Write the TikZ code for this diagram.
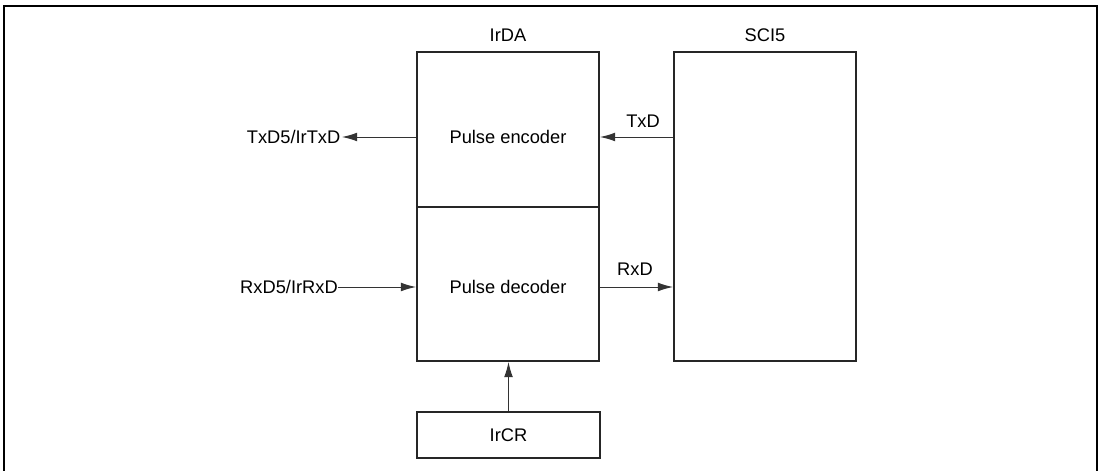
\documentclass[tikz,border=0pt]{standalone}
\usepackage{fontspec}
\setmainfont{Liberation Sans}
\usetikzlibrary{arrows.meta}

\tikzset{
  blk/.style={draw=black!85, line width=1.4pt, inner sep=0pt, font=\fontsize{13}{15}\selectfont},
  sig/.style={draw=black!80, line width=0.7pt, -{Latex[length=3.8mm,width=2.2mm]}},
  txt/.style={inner sep=1pt, font=\fontsize{13}{15}\selectfont}
}

\begin{document}
\begin{tikzpicture}[x=0.025cm,y=-0.025cm]
\useasboundingbox (0,0) rectangle (1100,471);
% frame, open at the bottom
\draw[line width=1.7pt] (4,471) -- (4,6) -- (1097,6) -- (1097,471);

% blocks
\node[blk, minimum width=182*0.025cm, minimum height=155*0.025cm] (enc) at (508,129.5) {};
\node[blk, minimum width=182*0.025cm, minimum height=154*0.025cm] (dec) at (508,284) {};
\node[blk, minimum width=182*0.025cm, minimum height=309*0.025cm] (sci) at (765,206.5) {};
\node[blk, minimum width=183*0.025cm, minimum height=46*0.025cm] (ircr) at (508.5,435) {IrCR};

% titles and texts
\path (508,35) [black] node[txt] (irda) {IrDA};
\path (765,35) [black] node[txt] (scit) {SCI5};
\path (508,137) node[txt] (enctxt) {Pulse encoder};
\path (508,287) node[txt] (dectxt) {Pulse decoder};
\path (643,121) node[txt] (txd) {TxD};
\path (635,269) node[txt] (rxd) {RxD};
\path (342,137) node[txt, anchor=east] (txpin) {TxD5/IrTxD};
\path (338,287) node[txt, anchor=east, inner sep=0pt] (rxpin) {RxD5/IrRxD};

% connectors
\draw[sig] (sci.west |- enctxt) -- (enc.east |- enctxt);
\draw[sig] (enc.west |- enctxt) -- (txpin.east);
\draw[sig] (rxpin.east) -- (dec.west |- rxpin);
\draw[sig] (dec.east |- dectxt) -- (sci.west |- dectxt);
\draw[sig] (ircr.north) -- (ircr.north |- dec.south);
\end{tikzpicture}
\end{document}
